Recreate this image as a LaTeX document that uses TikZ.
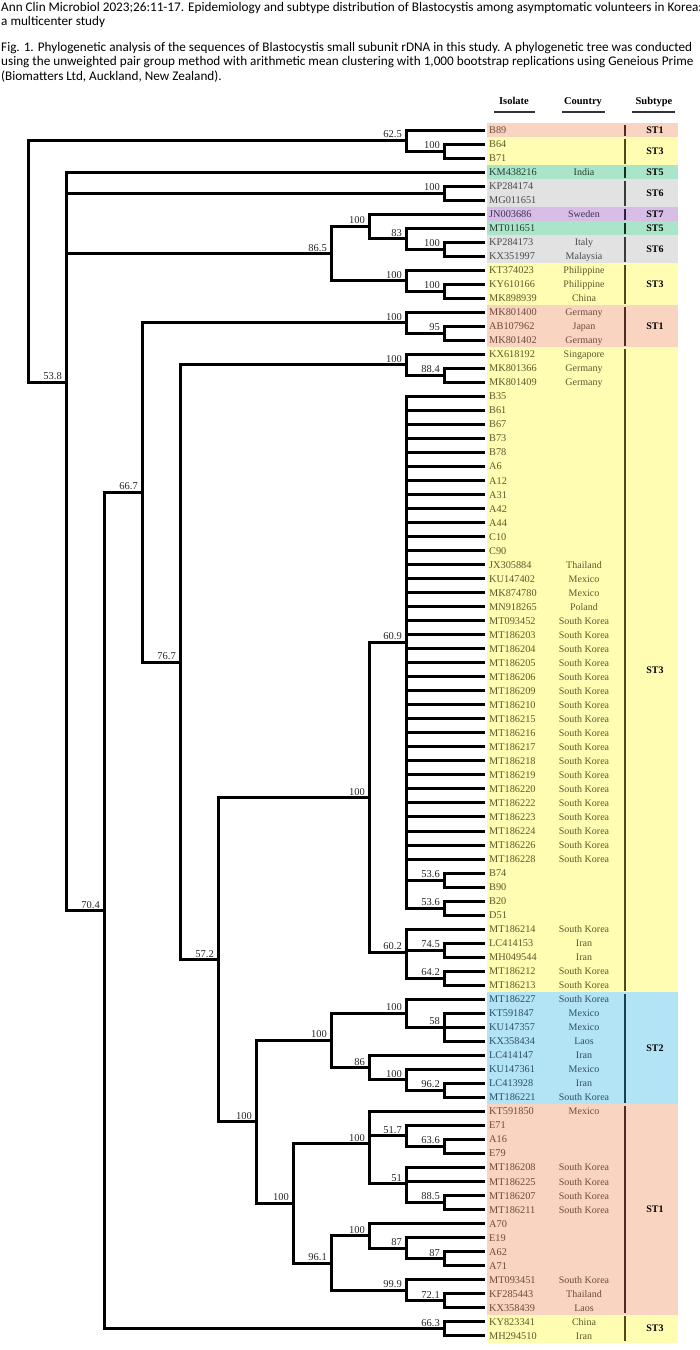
\documentclass[tikz,border=0pt]{standalone}
\usepackage{fontspec}
\setmainfont{Liberation Serif}
\newfontfamily\hdrfont{Carlito}
\definecolor{bandpk}{HTML}{F9D5C1}
\definecolor{bandyl}{HTML}{FFFDB2}
\definecolor{bandgr}{HTML}{ABE5C9}
\definecolor{bandgy}{HTML}{E2E2E2}
\definecolor{bandpu}{HTML}{D8BEE6}
\definecolor{bandbl}{HTML}{B3E4F6}
\definecolor{txtpk}{HTML}{6E4A3C}
\definecolor{txtyl}{HTML}{5C5A2C}
\definecolor{txtgr}{HTML}{243F31}
\definecolor{txtgy}{HTML}{4A4A4A}
\definecolor{txtpu}{HTML}{3E3150}
\definecolor{txtbl}{HTML}{2E5062}
\definecolor{barpk}{HTML}{4E2A20}
\definecolor{baryl}{HTML}{4C4A1C}
\definecolor{bargr}{HTML}{12301F}
\definecolor{bargy}{HTML}{3A3A3A}
\definecolor{barpu}{HTML}{2E2040}
\definecolor{barbl}{HTML}{163E58}
\begin{document}
\begin{tikzpicture}[x=1pt,y=-1pt,
  declare function={Y(\k)=130+(\k-1)*14.02;},
  br/.style={line width=3pt, line cap=rect, line join=miter, black},
  bs/.style={anchor=south east, inner sep=0pt, xshift=-4pt, yshift=2.2pt,
    font=\fontsize{10.5}{11}\selectfont, text=black!85},
  leaflab/.style={anchor=base west, inner sep=0pt, font=\fontsize{10.3}{11}\selectfont},
  ctry/.style={anchor=base, inner sep=0pt, font=\fontsize{10}{11}\selectfont},
  stlab/.style={anchor=center, inner sep=0pt, font=\bfseries\fontsize{10}{11}\selectfont},
  colhead/.style={anchor=base, inner sep=0pt, font=\bfseries\fontsize{10.5}{12}\selectfont},
  hdr/.style={anchor=base west, inner sep=0pt, font=\hdrfont\fontsize{13.2}{14}\selectfont},
  uline/.style={line width=1.4pt, black!80}]
\useasboundingbox (0,0) rectangle (700,1350);

% header text
\node[hdr] (t1a) at (1,11) {Ann Clin Microbiol 2023;26:11-17. Epidemiology and subtype distribution of Blastocystis among asymptomatic volunteers in Korea:};
\node[hdr] (t1b) at (1,25) {a multicenter study};
\node[hdr] (t2a) at (1,51) {Fig. 1. Phylogenetic analysis of the sequences of Blastocystis small subunit rDNA in this study. A phylogenetic tree was conducted};
\node[hdr] (t2b) at (1,65.5) {using the unweighted pair group method with arithmetic mean clustering with 1,000 bootstrap replications using Geneious Prime};
\node[hdr] (t2c) at (1,80) {(Biomatters Ltd, Auckland, New Zealand).};

% column headers
\node[colhead] (hIso) at (514,104) {Isolate};
\node[colhead] (hCty) at (583,104) {Country};
\node[colhead] (hSub) at (654,104) {Subtype};
\draw[uline] (494,112) -- (535,112);
\draw[uline] (562,112) -- (605,112);
\draw[uline] (632,112) -- (675,112);

% leaves: bands, tips, labels
\foreach \n/\c/\b [count=\i] in {
 B89/{}/pk, B64/{}/yl, B71/{}/yl, KM438216/India/gr, KP284174/{}/gy, MG011651/{}/gy,
 JN003686/Sweden/pu, MT011651/{}/gr, KP284173/Italy/gy, KX351997/Malaysia/gy,
 KT374023/Philippine/yl, KY610166/Philippine/yl, MK898939/China/yl,
 MK801400/Germany/pk, AB107962/Japan/pk, MK801402/Germany/pk,
 KX618192/Singapore/yl, MK801366/Germany/yl, MK801409/Germany/yl,
 B35/{}/yl, B61/{}/yl, B67/{}/yl, B73/{}/yl, B78/{}/yl, A6/{}/yl, A12/{}/yl, A31/{}/yl,
 A42/{}/yl, A44/{}/yl, C10/{}/yl, C90/{}/yl,
 JX305884/Thailand/yl, KU147402/Mexico/yl, MK874780/Mexico/yl, MN918265/Poland/yl,
 MT093452/South Korea/yl, MT186203/South Korea/yl, MT186204/South Korea/yl,
 MT186205/South Korea/yl, MT186206/South Korea/yl, MT186209/South Korea/yl,
 MT186210/South Korea/yl, MT186215/South Korea/yl, MT186216/South Korea/yl,
 MT186217/South Korea/yl, MT186218/South Korea/yl, MT186219/South Korea/yl,
 MT186220/South Korea/yl, MT186222/South Korea/yl, MT186223/South Korea/yl,
 MT186224/South Korea/yl, MT186226/South Korea/yl, MT186228/South Korea/yl,
 B74/{}/yl, B90/{}/yl, B20/{}/yl, D51/{}/yl,
 MT186214/South Korea/yl, LC414153/Iran/yl, MH049544/Iran/yl,
 MT186212/South Korea/yl, MT186213/South Korea/yl,
 MT186227/South Korea/bl, KT591847/Mexico/bl, KU147357/Mexico/bl, KX358434/Laos/bl,
 LC414147/Iran/bl, KU147361/Mexico/bl, LC413928/Iran/bl, MT186221/South Korea/bl,
 KT591850/Mexico/pk, E71/{}/pk, A16/{}/pk, E79/{}/pk,
 MT186208/South Korea/pk, MT186225/South Korea/pk, MT186207/South Korea/pk,
 MT186211/South Korea/pk, A70/{}/pk, E19/{}/pk, A62/{}/pk, A71/{}/pk,
 MT093451/South Korea/pk, KF285443/Thailand/pk, KX358439/Laos/pk,
 KY823341/China/yl, MH294510/Iran/yl}{
  \fill[band\b] (487,{Y(\i)-7.02}) rectangle (678,{Y(\i)+7.02});
  \coordinate (t\i) at (483,{Y(\i)});
  \node[leaflab, text=txt\b] (l\i) at (489,{Y(\i)+3.5}) {\n};
  \node[ctry, text=txt\b] (c\i) at (584,{Y(\i)+3.5}) {\c};
}

% subtype bars and labels
\foreach \f/\l/\s/\b [count=\k] in {1/1/ST1/pk, 2/3/ST3/yl, 4/4/ST5/gr, 5/6/ST6/gy, 7/7/ST7/pu,
  8/8/ST5/gr, 9/10/ST6/gy, 11/13/ST3/yl, 14/16/ST1/pk, 17/62/ST3/yl, 63/70/ST2/bl,
  71/85/ST1/pk, 86/87/ST3/yl}{
  \draw[line width=2.6pt, bar\b] (625,{Y(\f)-5.5}) -- (625,{Y(\l)+5.5});
  \node[stlab] (s\k) at (655,{(Y(\f)+Y(\l))/2}) {\s};
}

% internal nodes
\coordinate (root) at (28,{Y(10.374)});
\coordinate (a1) at (406,{Y(1.75)});
\coordinate (a2) at (444,{Y(2.5)});
\coordinate (nx) at (66,{Y(18.998)});
\coordinate (b1) at (444,{Y(5.5)});
\coordinate (b2) at (331,{Y(9.8125)});
\coordinate (b3) at (369,{Y(7.875)});
\coordinate (b4) at (406,{Y(8.75)});
\coordinate (b5) at (444,{Y(9.5)});
\coordinate (b6) at (406,{Y(11.75)});
\coordinate (b7) at (444,{Y(12.5)});
\coordinate (c1) at (104,{Y(56.68)});
\coordinate (z1) at (444,{Y(86.5)});
\coordinate (c2) at (142,{Y(26.857)});
\coordinate (c3) at (406,{Y(14.75)});
\coordinate (c4) at (444,{Y(15.5)});
\coordinate (c5) at (180,{Y(38.965)});
\coordinate (d1) at (406,{Y(17.75)});
\coordinate (d2) at (444,{Y(18.5)});
\coordinate (d3) at (218,{Y(60.18)});
\coordinate (e1) at (369,{Y(48.611)});
\coordinate (e2) at (406,{Y(37.556)});
\coordinate (e3) at (444,{Y(54.5)});
\coordinate (e4) at (444,{Y(56.5)});
\coordinate (e5) at (406,{Y(59.667)});
\coordinate (e6) at (444,{Y(59.5)});
\coordinate (e7) at (444,{Y(61.5)});
\coordinate (f1) at (256,{Y(71.748)});
\coordinate (g1) at (331,{Y(65.9375)});
\coordinate (g2) at (406,{Y(64)});
\coordinate (g3) at (444,{Y(65)});
\coordinate (g4) at (369,{Y(67.875)});
\coordinate (g5) at (406,{Y(68.75)});
\coordinate (g6) at (444,{Y(69.5)});
\coordinate (h1) at (293,{Y(77.559)});
\coordinate (h2) at (369,{Y(73.306)});
\coordinate (h3) at (406,{Y(72.75)});
\coordinate (h4) at (444,{Y(73.5)});
\coordinate (h5) at (406,{Y(76.1667)});
\coordinate (h6) at (444,{Y(77.5)});
\coordinate (h7) at (331,{Y(81.8125)});
\coordinate (h8) at (369,{Y(79.875)});
\coordinate (h9) at (406,{Y(80.75)});
\coordinate (h10) at (444,{Y(81.5)});
\coordinate (h11) at (406,{Y(83.75)});
\coordinate (h12) at (444,{Y(84.5)});

% branches
\draw[br] (root) |- (a1) (root) |- (nx);
\draw[br] (a1) |- (t1) (a1) |- (a2);
\draw[br] (a2) |- (t2) (a2) |- (t3);
\draw[br] (nx) |- (t4) (nx) |- (b1) (nx) |- (b2) (nx) |- (c1);
\draw[br] (b1) |- (t5) (b1) |- (t6);
\draw[br] (b2) |- (b3) (b2) |- (b6);
\draw[br] (b3) |- (t7) (b3) |- (b4);
\draw[br] (b4) |- (t8) (b4) |- (b5);
\draw[br] (b5) |- (t9) (b5) |- (t10);
\draw[br] (b6) |- (t11) (b6) |- (b7);
\draw[br] (b7) |- (t12) (b7) |- (t13);
\draw[br] (c1) |- (c2) (c1) |- (z1);
\draw[br] (z1) |- (t86) (z1) |- (t87);
\draw[br] (c2) |- (c3) (c2) |- (c5);
\draw[br] (c3) |- (t14) (c3) |- (c4);
\draw[br] (c4) |- (t15) (c4) |- (t16);
\draw[br] (c5) |- (d1) (c5) |- (d3);
\draw[br] (d1) |- (t17) (d1) |- (d2);
\draw[br] (d2) |- (t18) (d2) |- (t19);
\draw[br] (d3) |- (e1) (d3) |- (f1);
\draw[br] (e1) |- (e2) (e1) |- (e5);
\foreach \i in {20,...,53}{\draw[br] (e2) |- (t\i);}
\draw[br] (e2) |- (e3) (e2) |- (e4);
\draw[br] (e3) |- (t54) (e3) |- (t55);
\draw[br] (e4) |- (t56) (e4) |- (t57);
\draw[br] (e5) |- (t58) (e5) |- (e6) (e5) |- (e7);
\draw[br] (e6) |- (t59) (e6) |- (t60);
\draw[br] (e7) |- (t61) (e7) |- (t62);
\draw[br] (f1) |- (g1) (f1) |- (h1);
\draw[br] (g1) |- (g2) (g1) |- (g4);
\draw[br] (g2) |- (t63) (g2) |- (g3);
\draw[br] (g3) |- (t64) (g3) |- (t65) (g3) |- (t66);
\draw[br] (g4) |- (t67) (g4) |- (g5);
\draw[br] (g5) |- (t68) (g5) |- (g6);
\draw[br] (g6) |- (t69) (g6) |- (t70);
\draw[br] (h1) |- (h2) (h1) |- (h7);
\draw[br] (h2) |- (t71) (h2) |- (h3) (h2) |- (h5);
\draw[br] (h3) |- (t72) (h3) |- (h4);
\draw[br] (h4) |- (t73) (h4) |- (t74);
\draw[br] (h5) |- (t75) (h5) |- (t76) (h5) |- (h6);
\draw[br] (h6) |- (t77) (h6) |- (t78);
\draw[br] (h7) |- (h8) (h7) |- (h11);
\draw[br] (h8) |- (t79) (h8) |- (h9);
\draw[br] (h9) |- (t80) (h9) |- (h10);
\draw[br] (h10) |- (t81) (h10) |- (t82);
\draw[br] (h11) |- (t83) (h11) |- (h12);
\draw[br] (h12) |- (t84) (h12) |- (t85);

% bootstrap values
\foreach \p/\v in {a1/62.5, a2/100, nx/53.8, b1/100, b2/86.5, b3/100, b4/83, b5/100,
  b6/100, b7/100, c1/70.4, z1/66.3, c2/66.7, c3/100, c4/95, c5/76.7, d1/100, d2/88.4,
  d3/57.2, e1/100, e2/60.9, e3/53.6, e4/53.6, e5/60.2, e6/74.5, e7/64.2, f1/100,
  g1/100, g2/100, g3/58, g4/86, g5/100, g6/96.2, h1/100, h2/100, h3/51.7, h4/63.6,
  h5/51, h6/88.5, h7/96.1, h8/100, h9/87, h10/87, h11/99.9, h12/72.1}{
  \node[bs] (bv\p) at (\p) {\v};
}
\end{tikzpicture}
\end{document}
